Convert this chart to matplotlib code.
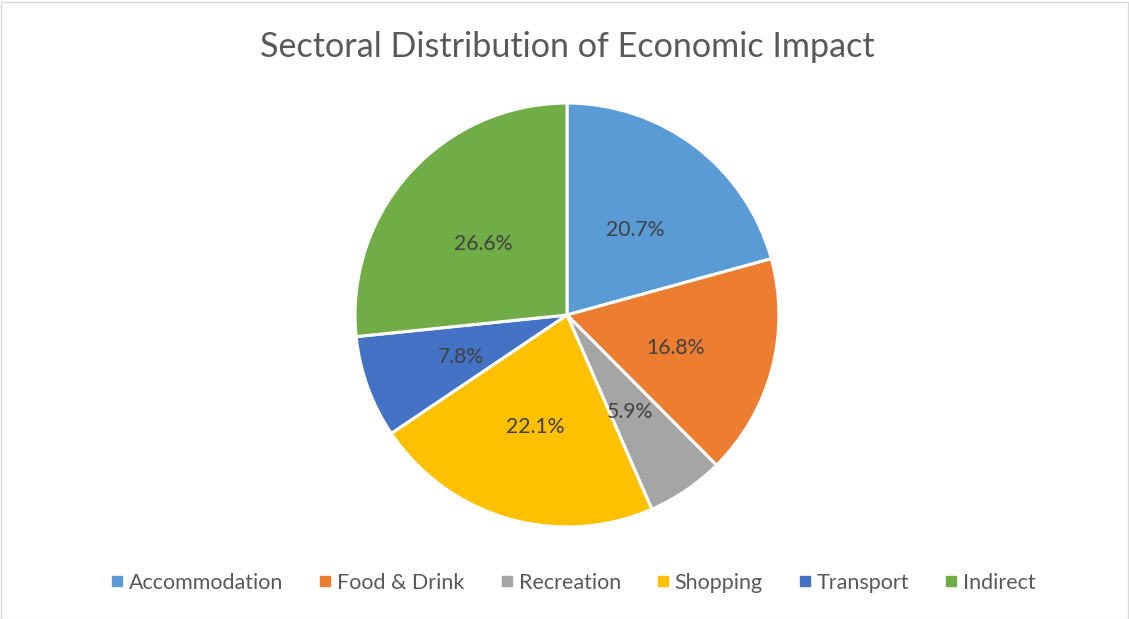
import matplotlib.pyplot as plt
from matplotlib.patches import Rectangle
from matplotlib.lines import Line2D

sectors = ['Accommodation', 'Food & Drink', 'Recreation', 'Shopping', 'Transport', 'Indirect']
shares = [20.7, 16.8, 5.9, 22.1, 7.8, 26.6]
colours = ['#5B9BD5', '#ED7D31', '#A5A5A5', '#FFC000', '#4472C4', '#70AD47']

plt.rcParams['font.family'] = ['Lato', 'DejaVu Sans']

fig = plt.figure(figsize=(11.29, 6.19), dpi=100)
ax = fig.add_axes([0, 0, 1, 1])
ax.set_xlim(0, 1129)
ax.set_ylim(619, 0)
ax.axis('off')

# pie in its own axes so the circle is round
pax = fig.add_axes([(567 - 213) / 1129, 1 - (315 + 213) / 619, 426 / 1129, 426 / 619])
wedges, texts, autotexts = pax.pie(
    shares, colors=colours, startangle=90, counterclock=False,
    autopct='%1.1f%%', pctdistance=0.53, radius=1.0,
    wedgeprops=dict(edgecolor='white', linewidth=2.2),
    textprops=dict(color='#404040', fontsize=15.2))
for t in autotexts:
    x, y = t.get_position()
    t.set_position((x, y - 0.02))
pax.set_aspect('equal')
pax.set_xlim(-1.005, 1.005)
pax.set_ylim(-1.005, 1.005)

fig.text(567 / 1129, 1 - 47 / 619, 'Sectoral Distribution of Economic Impact',
         ha='center', va='center', fontsize=24.6, color='#595959')

handles = [Line2D([], [], marker='s', linestyle='', markersize=6.5,
                  markerfacecolor=c, markeredgecolor=c) for c in colours]
fig.legend(handles, sectors, loc='center', bbox_to_anchor=(571 / 1129, 1 - 583 / 619),
           ncol=6, frameon=False, fontsize=15.5, labelcolor='#595959',
           handletextpad=0.05, columnspacing=1.45, handlelength=1.0)

fig.patches.append(Rectangle((0.5 / 1129, 0.5 / 619), 1 - 2 / 1129, 1 - 2 / 619,
                             transform=fig.transFigure, fill=False,
                             edgecolor='#D9D9D9', linewidth=1))

fig.savefig('out.png', dpi=100)
